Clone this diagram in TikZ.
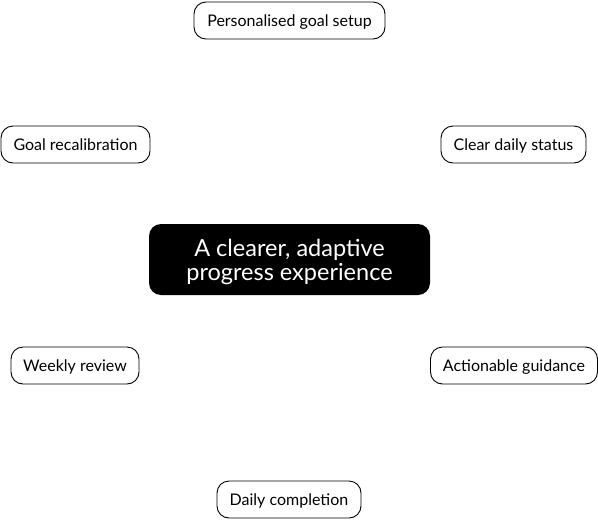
\documentclass[tikz,border=0pt]{standalone}
\usepackage{fontspec}
\setmainfont{Lato}
\begin{document}
\begin{tikzpicture}[x=1pt,y=-1pt,
  item/.style={draw=black,line width=0.9pt,rounded corners=12pt,fill=white,minimum height=37pt,inner sep=0pt,text height=15.4pt,text depth=3.4pt,font=\fontsize{16}{19}\selectfont},
  core/.style={fill=black,rounded corners=12pt,minimum width=281pt,minimum height=71pt,inner sep=0pt},
  coretext/.style={text=white,align=center,inner sep=0pt,font=\fontsize{23.5}{24.5}\selectfont}]
\useasboundingbox (0,0) rectangle (598,520);
\node[core] (c) at (289.5,259.5) {};
\node[coretext,yshift=-2.5pt] (ct) at (c) {A clearer, adaptive\\progress experience};
\node[item,minimum width=191pt] (p) at (289.5,20.5) {Personalised goal setup};
\node[item,minimum width=149pt] (g) at (75.5,144.5) {Goal recalibration};
\node[item,minimum width=145pt] (s) at (513.5,144.5) {Clear daily status};
\node[item,minimum width=128pt] (w) at (75,365.5) {Weekly review};
\node[item,minimum width=167pt] (a) at (514,365.5) {Actionable guidance};
\node[item,minimum width=144pt] (d) at (289,499.5) {Daily completion};
\end{tikzpicture}
\end{document}
